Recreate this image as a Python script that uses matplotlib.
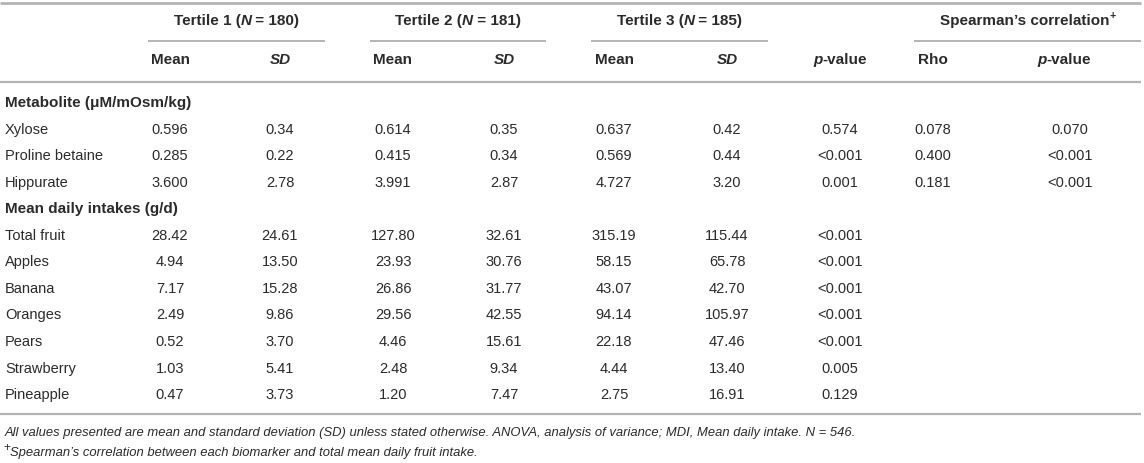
import matplotlib
matplotlib.use("Agg")
import matplotlib.pyplot as plt

plt.rcParams['font.family'] = ['Liberation Sans', 'DejaVu Sans']

# ---- table content ----
metabolites = ["Xylose", "Proline betaine", "Hippurate"]
met_t1_mean = [0.596, 0.285, 3.600]
met_t1_sd = [0.34, 0.22, 2.78]
met_t2_mean = [0.614, 0.415, 3.991]
met_t2_sd = [0.35, 0.34, 2.87]
met_t3_mean = [0.637, 0.569, 4.727]
met_t3_sd = [0.42, 0.44, 3.20]
met_p = ["0.574", "<0.001", "0.001"]
met_rho = [0.078, 0.400, 0.181]
met_rho_p = ["0.070", "<0.001", "<0.001"]

foods = ["Total fruit", "Apples", "Banana", "Oranges", "Pears", "Strawberry", "Pineapple"]
food_t1_mean = [28.42, 4.94, 7.17, 2.49, 0.52, 1.03, 0.47]
food_t1_sd = [24.61, 13.50, 15.28, 9.86, 3.70, 5.41, 3.73]
food_t2_mean = [127.80, 23.93, 26.86, 29.56, 4.46, 2.48, 1.20]
food_t2_sd = [32.61, 30.76, 31.77, 42.55, 15.61, 9.34, 7.47]
food_t3_mean = [315.19, 58.15, 43.07, 94.14, 22.18, 4.44, 2.75]
food_t3_sd = [115.44, 65.78, 42.70, 105.97, 47.46, 13.40, 16.91]
food_p = ["<0.001", "<0.001", "<0.001", "<0.001", "<0.001", "0.005", "0.129"]

tertile_n = [180, 181, 185]
footnote1 = ("All values presented are mean and standard deviation (SD) unless stated otherwise. "
             "ANOVA, analysis of variance; MDI, Mean daily intake. N = 546.")
footnote2 = "Spearman\u2019s correlation between each biomarker and total mean daily fruit intake."

W, H = 1144, 463
TXT = "#2b2b2b"
LINE = "#b4b4b4"
FS = 10.5
FS_HEAD = 11

fig = plt.figure(figsize=(W / 100, H / 100), dpi=100)
ax = fig.add_axes([0, 0, 1, 1])
ax.set_xlim(0, W)
ax.set_ylim(H, 0)
ax.axis("off")
renderer = fig.canvas.get_renderer()


def runs(x, y, parts, ha="left", size=FS, sup=0.7):
    # parts: list of (text, weight, style, superscript)
    widths = []
    for t, wgt, sty, up in parts:
        tmp = ax.text(0, 0, t, fontsize=size * (sup if up else 1), fontweight=wgt, fontstyle=sty)
        widths.append(tmp.get_window_extent(renderer).width)
        tmp.remove()
    total = sum(widths)
    if ha == "center":
        x = x - total / 2
    for (t, wgt, sty, up), w in zip(parts, widths):
        ax.text(x, y - (5 if up else 0), t, fontsize=size * (sup if up else 1), fontweight=wgt,
                fontstyle=sty, color=TXT, va="center", ha="left")
        x += w


def hline(y, x0, x1, lw=1.6):
    ax.plot([x0, x1], [y, y], color=LINE, lw=lw, solid_capstyle="butt")


# rules
hline(3, 0, 1141, lw=2)
hline(82, 0, 1141)
hline(414, 0, 1141)
spans = [(148, 325), (370, 546), (591, 768), (914, 1141)]
for x0, x1 in spans:
    hline(40.5, x0, x1, lw=1.4)

# column centres
col_x = [170, 280, 393, 504, 614, 727, 840, 933, 1070]

# header row 1
y1 = 21
for k, n in enumerate(tertile_n):
    cx = (spans[k][0] + spans[k][1]) / 2
    runs(cx, y1, [(f"Tertile {k + 1} (", "bold", "normal", False),
                  ("N", "bold", "italic", False),
                  (f" = {n})", "bold", "normal", False)], ha="center", size=FS_HEAD)
runs((spans[3][0] + spans[3][1]) / 2, y1, [("Spearman\u2019s correlation", "bold", "normal", False),
                                           ("+", "bold", "normal", True)], ha="center", size=FS_HEAD)

# header row 2
y2 = 60
for k in [0, 2, 4]:
    runs(col_x[k], y2, [("Mean", "bold", "normal", False)], ha="center", size=FS_HEAD)
for k in [1, 3, 5]:
    runs(col_x[k], y2, [("SD", "bold", "italic", False)], ha="center", size=FS_HEAD)
runs(col_x[6], y2, [("p", "bold", "italic", False), ("-value", "bold", "normal", False)],
     ha="center", size=FS_HEAD)
runs(col_x[7], y2, [("Rho", "bold", "normal", False)], ha="center", size=FS_HEAD)
runs(1064, y2, [("p", "bold", "italic", False), ("-value", "bold", "normal", False)],
     ha="center", size=FS_HEAD)

step = 26.55
y = 103
runs(5, y, [("Metabolite (\u03bcM/mOsm/kg)", "bold", "normal", False)], size=FS_HEAD)
for i, name in enumerate(metabolites):
    y += step
    ax.text(5, y, name, fontsize=FS, color=TXT, va="center")
    vals = [f"{met_t1_mean[i]:.3f}", f"{met_t1_sd[i]:.2f}", f"{met_t2_mean[i]:.3f}",
            f"{met_t2_sd[i]:.2f}", f"{met_t3_mean[i]:.3f}", f"{met_t3_sd[i]:.2f}",
            met_p[i], f"{met_rho[i]:.3f}", met_rho_p[i]]
    for cx, v in zip(col_x, vals):
        ax.text(cx, y, v, fontsize=FS, color=TXT, va="center", ha="center")

y += step
runs(5, y, [("Mean daily intakes (g/d)", "bold", "normal", False)], size=FS_HEAD)
for i, name in enumerate(foods):
    y += step
    ax.text(5, y, name, fontsize=FS, color=TXT, va="center")
    vals = [f"{food_t1_mean[i]:.2f}", f"{food_t1_sd[i]:.2f}", f"{food_t2_mean[i]:.2f}",
            f"{food_t2_sd[i]:.2f}", f"{food_t3_mean[i]:.2f}", f"{food_t3_sd[i]:.2f}", food_p[i]]
    for cx, v in zip(col_x, vals):
        ax.text(cx, y, v, fontsize=FS, color=TXT, va="center", ha="center")

# footnotes
runs(5, 433, [(footnote1, "normal", "italic", False)], size=9.4)
runs(3, 453, [("+", "normal", "normal", True), (footnote2, "normal", "italic", False)],
     size=9.4, sup=0.9)

fig.savefig("out.png", dpi=100)
